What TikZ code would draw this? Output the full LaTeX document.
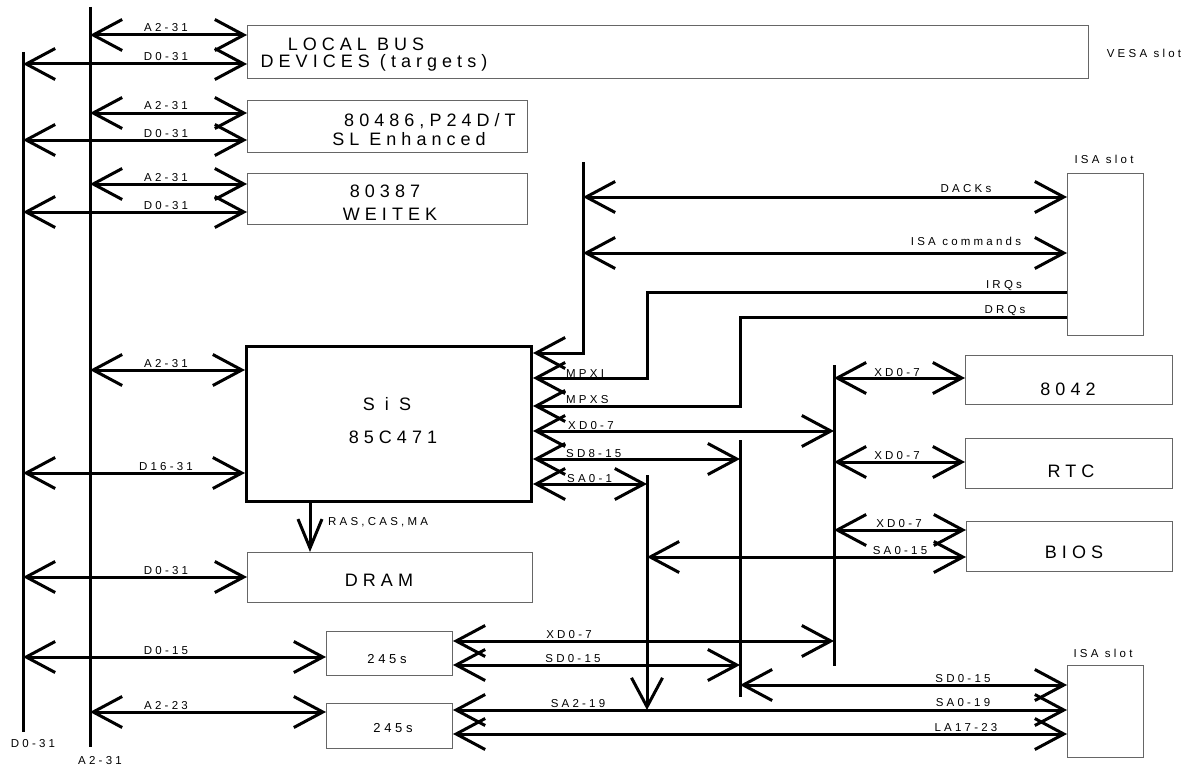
\documentclass[tikz,border=0pt]{standalone}
\usepackage{fontspec}
\setmainfont{Liberation Sans}[LetterSpace=28]
\usetikzlibrary{arrows.meta}

\begin{document}
\begin{tikzpicture}[x=1pt,y=-1pt,
  >={Straight Barb[length=29pt,width=31pt]},
  sig/.style={line width=3pt},
  box/.style={draw=black!60,line width=1pt,anchor=north west,inner sep=0pt},
  chip/.style={draw=black,line width=3pt,anchor=north west,inner sep=0pt},
  big/.style={anchor=base,inner sep=0pt,font=\fontsize{18}{18}\selectfont},
  mid/.style={anchor=base,inner sep=0pt,font=\fontsize{13}{13}\selectfont},
  lbl/.style={anchor=base,inner sep=0pt,font=\fontsize{11.5}{11.5}\selectfont}]
  \useasboundingbox (0,0) rectangle (1189,768);
  \coordinate (dbus) at (23,0);
  \coordinate (abus) at (90,0);
  \coordinate (cmd) at (583,0);
  \coordinate (sabus) at (647,0);
  \coordinate (sdbus) at (740,0);
  \coordinate (xdbus) at (834,0);

  \node[box,minimum width=841pt,minimum height=53pt] (lbd) at (247,25) {};
  \node[box,minimum width=280pt,minimum height=52pt] (cpu) at (247,100) {};
  \node[box,minimum width=280pt,minimum height=51pt] (fpu) at (247,173) {};
  \node[chip,minimum width=285pt,minimum height=155pt] (sis) at (245,345) {};
  \node[box,minimum width=285pt,minimum height=50pt] (dram) at (247,552) {};
  \node[box,minimum width=126pt,minimum height=44pt] (bufa) at (326,631) {};
  \node[box,minimum width=126pt,minimum height=45pt] (bufb) at (326,703) {};
  \node[box,minimum width=76pt,minimum height=162pt] (isaa) at (1067,173) {};
  \node[box,minimum width=76pt,minimum height=92pt] (isab) at (1067,665) {};
  \node[box,minimum width=207pt,minimum height=49pt] (kbc) at (965,355) {};
  \node[box,minimum width=207pt,minimum height=50pt] (rtc) at (965,438) {};
  \node[box,minimum width=206pt,minimum height=50pt] (bios) at (966,521) {};

  \node[big] (lbdA) at (356,51) {LOCAL BUS};
  \node[big] (lbdB) at (374,68) {DEVICES (targets)};
  \node[big] (cpuA) at (430,126) {80486,P24D/T};
  \node[big] (cpuB) at (409,145) {SL Enhanced};
  \node[big] (fpuA) at (385,197) {80387};
  \node[big] (fpuB) at (390,220) {WEITEK};
  \node[big] (sisA) at (387,410) {S i S};
  \node[big] (sisB) at (393,443) {85C471};
  \node[big] (dramA) at (379,586) {DRAM};
  \node[mid] (bufaA) at (387,663) {245s};
  \node[mid] (bufbA) at (393,732) {245s};
  \node[big] (kbcA) at (1068,395) {8042};
  \node[big] (rtcA) at (1071,477) {RTC};
  \node[big] (biosA) at (1074,558) {BIOS};
  \node[lbl] (vesa) at (1144,58) {VESA slot};
  \node[lbl] (isaaA) at (1104,163) {ISA slot};
  \node[lbl] (isabA) at (1103,657) {ISA slot};

  \draw[sig] (dbus |- 0,52) -- (dbus |- 0,732);
  \draw[sig] (abus |- 0,7) -- (abus |- 0,747);
  \node[lbl] (dbusA) at (33,747) {D0-31};
  \node[lbl] (abusA) at (100,764) {A2-31};

  \foreach \b/\t/\y/\l [count=\i] in {abus/lbd/35/A2-31,dbus/lbd/64/D0-31,
      abus/cpu/113/A2-31,dbus/cpu/140/D0-31,abus/fpu/184/A2-31,dbus/fpu/212/D0-31,
      abus/sis/370/A2-31,dbus/sis/473/D16-31,dbus/dram/577/D0-31,
      dbus/bufa/657/D0-15,abus/bufb/712/A2-23}
    \draw[sig,<->] (\b |- 0,\y) -- (\t.west |- 0,\y) node[lbl,name=left\i] at (166,\y-3) {\l};

  \draw[sig,<-] (sis.east |- 0,353) -- (cmd |- 0,353) -- (cmd |- 0,162);
  \draw[sig,<->] (cmd |- 0,197) -- (isaa.west |- 0,197) node[lbl,name=dack] at (966,192) {DACKs};
  \draw[sig,<->] (cmd |- 0,253) -- (isaa.west |- 0,253) node[lbl,name=cmds] at (966,245) {ISA commands};
  \draw[sig,<-] (sis.east |- 0,378) -- (sabus |- 0,378) -- (sabus |- 0,292) -- (isaa.west |- 0,292);
  \draw[sig,<-] (sis.east |- 0,406) -- (sdbus |- 0,406) -- (sdbus |- 0,317) -- (isaa.west |- 0,317);
  \node[lbl] (irq) at (1004,288) {IRQs};
  \node[lbl] (drq) at (1005,313) {DRQs};
  \draw[sig,<->] (sis.east |- 0,431) -- (xdbus |- 0,431);
  \draw[sig,<->] (sis.east |- 0,459) -- (sdbus |- 0,459);
  \draw[sig,<->] (sis.east |- 0,484) -- (sabus |- 0,484);
  \node[lbl,anchor=base west] (mpxi) at (566,377) {MPXI};
  \node[lbl,anchor=base west] (mpxs) at (566,403) {MPXS};
  \node[lbl,anchor=base west] (xdsis) at (568,429) {XD0-7};
  \node[lbl,anchor=base west] (sdsis) at (566,457) {SD8-15};
  \node[lbl,anchor=base west] (sasis) at (567,482) {SA0-1};
  \draw[sig,-{Straight Barb[length=29pt,width=24pt]}] (sis.south -| 310,0) -- (dram.north -| 310,0);
  \node[lbl,anchor=base west] (ras) at (328,525) {RAS,CAS,MA};

  \draw[sig,->] (sabus |- 0,475) -- (sabus |- 0,710);
  \draw[sig] (sdbus |- 0,440) -- (sdbus |- 0,697);
  \draw[sig] (xdbus |- 0,365) -- (xdbus |- 0,666);

  \draw[sig,<->] (xdbus |- 0,378) -- (kbc.west |- 0,378) node[lbl,name=xdkbc] at (897,376) {XD0-7};
  \draw[sig,<->] (xdbus |- 0,462) -- (rtc.west |- 0,462) node[lbl,name=xdrtc] at (897,459) {XD0-7};
  \draw[sig,<->] (xdbus |- 0,530) -- (bios.west |- 0,530) node[lbl,name=xdbios] at (899,527) {XD0-7};
  \draw[sig,<->] (sabus |- 0,557) -- (bios.west |- 0,557) node[lbl,name=sabios] at (900,554) {SA0-15};

  \draw[sig,<->] (bufa.east |- 0,641) -- (xdbus |- 0,641) node[lbl,name=xdbuf] at (569,638) {XD0-7};
  \draw[sig,<->] (bufa.east |- 0,665) -- (sdbus |- 0,665) node[lbl,name=sdbuf] at (573,662) {SD0-15};
  \draw[sig,<->] (sdbus |- 0,685) -- (isab.west |- 0,685) node[lbl,name=sdisa] at (963,682) {SD0-15};
  \draw[sig,<->] (bufb.east |- 0,710) -- (isab.west |- 0,710) node[lbl,name=sabuf] at (578,707) {SA2-19};
  \node[lbl] (saisa) at (963,706) {SA0-19};
  \draw[sig,<->] (bufb.east |- 0,734) -- (isab.west |- 0,734) node[lbl,name=laisa] at (966,731) {LA17-23};
\end{tikzpicture}
\end{document}
